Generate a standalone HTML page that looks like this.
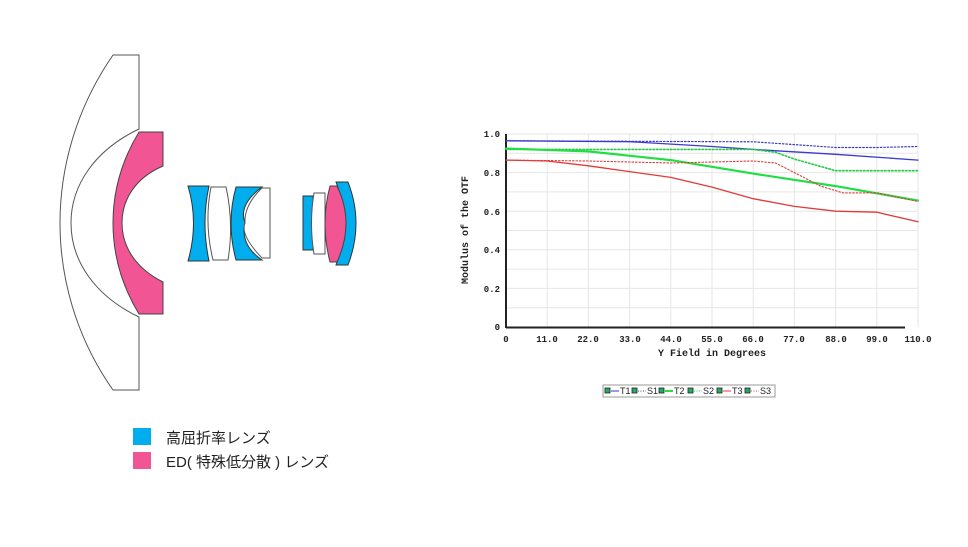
<!DOCTYPE html>
<html><head><meta charset="utf-8"><style>
body{margin:0;background:#fff;width:968px;height:542px;overflow:hidden;font-family:"Liberation Sans","Noto Sans CJK JP",sans-serif}
</style></head><body>
<svg width="968" height="542" viewBox="0 0 968 542" xmlns="http://www.w3.org/2000/svg">
<g stroke="#555" stroke-width="1" fill="#fff">
<path d="M113,55 L139,55 L139,129 C95,150 71,185 71,223 C71,261 95,296 139,317 L139,390 L113,390 C75,336 60,276 60,223 C60,170 75,110 113,55 Z"/>
<path d="M139,132 L163,132 L163,166 C135,178 122,200 122,223 C122,246 135,268 163,282 L163,314 L139,314 C122,286 113,256 113,223 C113,190 122,160 139,132 Z" fill="#f25594" stroke="#444"/>
<path d="M188,186 L209,186 Q201,223 209,261 L188,261 Q199,223 188,186 Z" fill="#00aeef" stroke="#333"/>
<path d="M211,187 L226,187 Q234,223 228,260 L213,260 Q204,223 211,187 Z" fill="#fff"/>
<path d="M236,187 L262,187 Q238,205 245,223 Q240,245 262,260 L236,260 Q226,223 236,187 Z" fill="#00aeef" stroke="#333"/>
<path d="M262,188 L270,188 L270,258 L262,258 Q240,235 245,223 Q244,205 262,188 Z" fill="#fff"/>
<rect x="303" y="196" width="10" height="54" fill="#00aeef" stroke="#333"/>
<path d="M314,193 L325,193 L325,254 L314,254 Q309,223 314,193 Z" fill="#fff"/>
<path d="M336,182 L348,182 Q364,223 348,265 L336,265 Q352,223 336,182 Z" fill="#00aeef" stroke="#333"/>
<path d="M330,186 L337,186 Q355,223 337,262 L330,262 Q320,223 330,186 Z" fill="#f25594" stroke="#444"/>
</g>
<rect x="133" y="428" width="18" height="17" fill="#00aeef"/>
<rect x="133" y="452" width="18" height="17" fill="#f25594"/>
<text x="166" y="443" font-size="15" fill="#222" font-family="Liberation Sans, Noto Sans CJK JP, sans-serif">高屈折率レンズ</text>
<text x="166" y="467" font-size="15" fill="#222" font-family="Liberation Sans, Noto Sans CJK JP, sans-serif">ED( 特殊低分散 ) レンズ</text>
<g stroke="#e6e6e6" stroke-width="1">
<line x1="506" y1="134" x2="918" y2="134"/><line x1="506" y1="153.3" x2="918" y2="153.3"/>
<line x1="506" y1="172.6" x2="918" y2="172.6"/><line x1="506" y1="191.9" x2="918" y2="191.9"/>
<line x1="506" y1="211.2" x2="918" y2="211.2"/><line x1="506" y1="230.5" x2="918" y2="230.5"/>
<line x1="506" y1="249.8" x2="918" y2="249.8"/><line x1="506" y1="269.1" x2="918" y2="269.1"/>
<line x1="506" y1="288.4" x2="918" y2="288.4"/><line x1="506" y1="307.7" x2="918" y2="307.7"/>
<line x1="547.2" y1="134" x2="547.2" y2="327"/><line x1="588.4" y1="134" x2="588.4" y2="327"/>
<line x1="629.6" y1="134" x2="629.6" y2="327"/><line x1="670.8" y1="134" x2="670.8" y2="327"/>
<line x1="712" y1="134" x2="712" y2="327"/><line x1="753.2" y1="134" x2="753.2" y2="327"/>
<line x1="794.4" y1="134" x2="794.4" y2="327"/><line x1="835.6" y1="134" x2="835.6" y2="327"/>
<line x1="876.8" y1="134" x2="876.8" y2="327"/><line x1="918" y1="134" x2="918" y2="327"/>
</g>
<line x1="506" y1="134" x2="506" y2="328" stroke="#222" stroke-width="2"/>
<line x1="506" y1="327.5" x2="905" y2="327.5" stroke="#222" stroke-width="2"/>
<g font-family="Liberation Mono, monospace" font-size="9" fill="#222" font-weight="bold">
<g text-anchor="end">
<text x="500" y="137">1.0</text><text x="500" y="176">0.8</text><text x="500" y="215">0.6</text>
<text x="500" y="253">0.4</text><text x="500" y="292">0.2</text><text x="500" y="330">0</text></g>
<g text-anchor="middle">
<text x="506" y="342">0</text><text x="547" y="342">11.0</text><text x="588" y="342">22.0</text>
<text x="630" y="342">33.0</text><text x="671" y="342">44.0</text><text x="712" y="342">55.0</text>
<text x="753" y="342">66.0</text><text x="794" y="342">77.0</text><text x="836" y="342">88.0</text>
<text x="877" y="342">99.0</text><text x="918" y="342">110.0</text>
<text x="712" y="356" font-size="10">Y Field in Degrees</text>
<text transform="translate(468,230) rotate(-90)" font-size="10">Modulus of the OTF</text>
</g></g>
<g fill="none" stroke-linejoin="round" stroke-linecap="round">
<polyline stroke="#3a3acc" stroke-width="1.2" stroke-dasharray="1.5,2" points="506,140.8 753.2,141.8 794.4,144.6 835.6,147.5 876.8,147.5 918,146.5"/>
<polyline stroke="#3a3acc" stroke-width="1.3" points="506,140.8 629.6,141.7 712,146.5 753.2,149.4 835.6,154.3 918,160.1"/>
<polyline stroke="#22cc44" stroke-width="1.6" stroke-dasharray="1.5,2" points="506,149.4 753.2,149.4 775.6,152.3 794.4,159.1 835.6,170.7 876.8,170.7 918,170.7"/>
<polyline stroke="#22dd44" stroke-width="2.2" points="506,148.5 588.4,151.4 670.8,160.1 753.2,173.6 835.6,186.1 918,200.6"/>
<polyline stroke="#e03a3a" stroke-width="1.1" stroke-dasharray="1.5,2" points="506,160.1 588.4,161 670.8,163 753.2,161 775.6,163 794.4,172.6 820.6,186.1 843,192.9 876.8,192.9 918,201.5"/>
<polyline stroke="#e03a3a" stroke-width="1.3" points="506,160.1 547.2,161 588.4,165.8 629.6,171.6 670.8,177.4 712,187.1 753.2,198.7 794.4,206.4 835.6,211.2 876.8,212.2 918,221.8"/>
</g>
<rect x="603" y="385" width="172" height="12" fill="#fff" stroke="#999"/>
<g font-family="Liberation Sans, sans-serif" font-size="9" fill="#222">
<rect x="605" y="388" width="5" height="5" fill="#2a6" stroke="#222" stroke-width="0.8"/><line x1="611" y1="391" x2="619" y2="391" stroke="#3a3acc"/><text x="620" y="394">T1</text>
<rect x="632" y="388" width="5" height="5" fill="#2a6" stroke="#222" stroke-width="0.8"/><line x1="638" y1="391" x2="646" y2="391" stroke="#3a3acc" stroke-dasharray="1,1.5"/><text x="647" y="394">S1</text>
<rect x="659" y="388" width="5" height="5" fill="#2a6" stroke="#222" stroke-width="0.8"/><line x1="665" y1="391" x2="673" y2="391" stroke="#22dd44" stroke-width="2"/><text x="674" y="394">T2</text>
<rect x="688" y="388" width="5" height="5" fill="#2a6" stroke="#222" stroke-width="0.8"/><line x1="694" y1="391" x2="702" y2="391" stroke="#22cc44" stroke-dasharray="1,1.5"/><text x="703" y="394">S2</text>
<rect x="717" y="388" width="5" height="5" fill="#2a6" stroke="#222" stroke-width="0.8"/><line x1="723" y1="391" x2="731" y2="391" stroke="#e03a3a"/><text x="732" y="394">T3</text>
<rect x="745" y="388" width="5" height="5" fill="#2a6" stroke="#222" stroke-width="0.8"/><line x1="751" y1="391" x2="759" y2="391" stroke="#e03a3a" stroke-dasharray="1,1.5"/><text x="760" y="394">S3</text>
</g>
</svg>
</body></html>
